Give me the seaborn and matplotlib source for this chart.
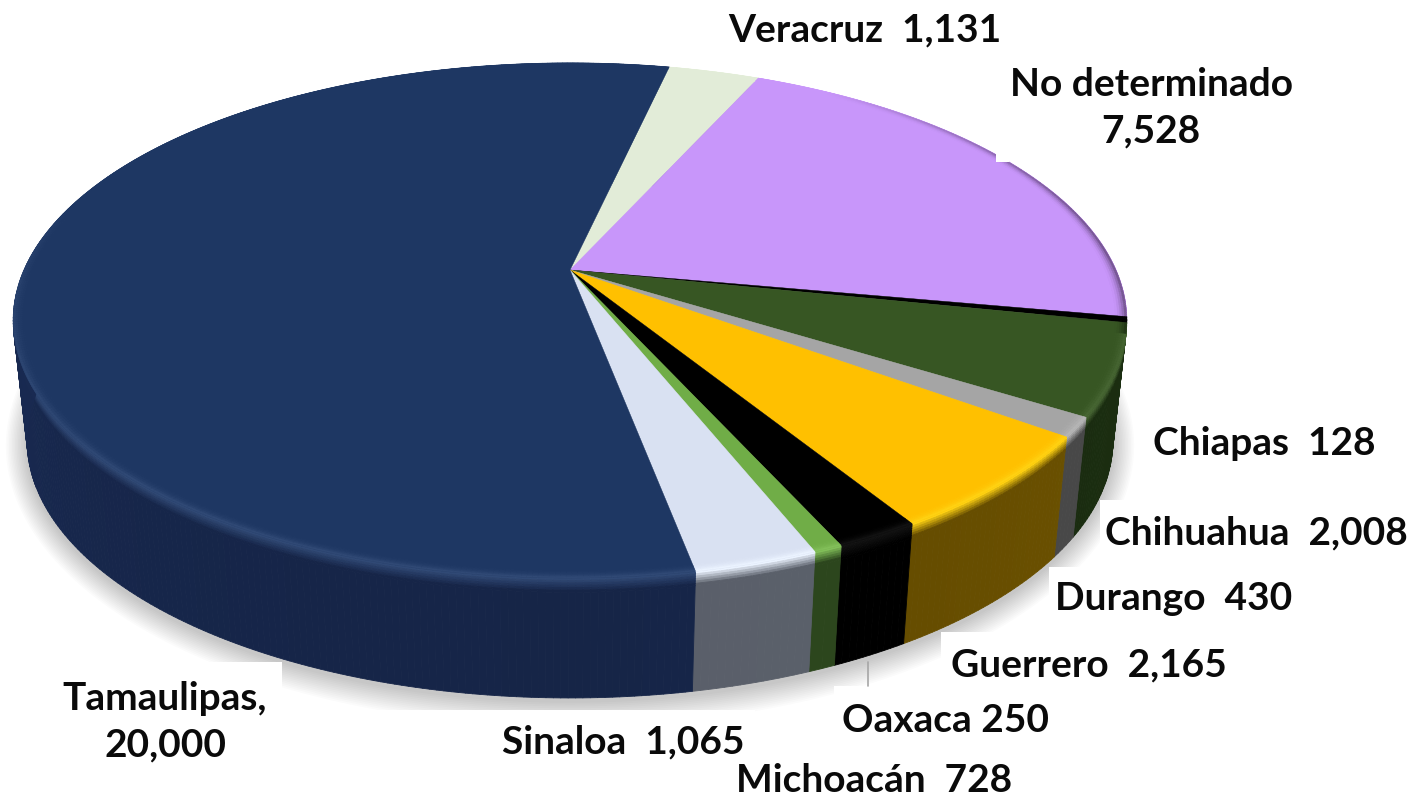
import numpy as np
import matplotlib
matplotlib.use("Agg")
import matplotlib.pyplot as plt
from matplotlib.collections import PolyCollection
from matplotlib.patches import Rectangle, Polygon
import seaborn as sns

# ---- data (clockwise from the back of the pie) ----
states = ["Veracruz", "No determinado", "Chiapas", "Chihuahua", "Durango",
          "Guerrero", "Michoacán", "Oaxaca", "Sinaloa", "Tamaulipas"]
values = [1131, 7528, 128, 2008, 430, 2165, 728, 250, 1065, 20000]
top_hex = ["#E2ECD8", "#C896FA", "#000000", "#375623", "#A5A5A5",
           "#FFC000", "#000000", "#70AD47", "#D9E1F2", "#1E3763"]
wall_hex = ["#71766C", "#64487D", "#000000", "#1A2C10", "#484848",
            "#6A5000", "#000000", "#2E4A1E", "#5F6570", "#17274C"]
label_text = ["Veracruz  1,131", "No determinado\n7,528", "Chiapas  128",
              "Chihuahua  2,008", "Durango  430", "Guerrero  2,165",
              "Michoacán  728", "Oaxaca 250", "Sinaloa  1,065", "Tamaulipas,\n20,000"]

# ---- layout ----
W, H = 1409, 797
CX, CY = 570, 270           # apex on the screen
A, B, K = 546, 247.6, 0.196 # perspective disc
DEPTH = 120
BOTTOM_SCALE = 0.975
START = 12.5                # degrees clockwise from the back
label_xy = [(865, 30), (1151, 108), (1264, 443), (1256, 533), (1174, 599),
            (1089, 665), (874, 780), (946, 720), (623, 742), (165, 722)]
white_boxes = [(0, 662, 282, 135), (0, 710, 492, 87), (492, 710, 263, 87),
               (834, 686, 575, 111), (941, 632, 468, 165), (1049, 567, 360, 230),
               (1100, 500, 309, 297)]

sns.set_theme(style="white")
plt.rcParams["font.family"] = ["Lato", "DejaVu Sans"]
tops = sns.color_palette(top_hex)
walls = sns.color_palette(wall_hex)

fig, ax = plt.subplots(figsize=(W / 100, H / 100), dpi=100)
fig.subplots_adjust(0, 0, 1, 1)
ax.set_xlim(0, W)
ax.set_ylim(H, 0)
ax.axis("off")


def project(theta, r=1.0):
    u, v = r * np.sin(theta), r * np.cos(theta)
    w = 1 + K * v
    return CX + A * u / w, CY - B * v / w


def lower(theta):
    x, y = project(theta)
    return CX + (x - CX) * BOTTOM_SCALE, y + DEPTH


def mix(a, b, t):
    return tuple((1 - t) * np.array(a) + t * np.array(b))


def lighten(c, amt):
    return tuple(np.clip(np.array(c) + amt, 0, 1))


def front(theta):
    return float(np.clip(-np.cos(theta) + 0.25, 0, 1) ** 0.5)


def dark_side(theta):
    return float(np.clip((np.sin(theta) - 0.55) * 2.2, 0, 1)) if np.cos(theta) > -0.25 else 0.0


# shadow
ring = np.linspace(0, 2 * np.pi, 361)
bx, by = lower(ring)
for i in range(14, 0, -1):
    s = 1 + i * 0.0028
    ax.add_patch(Polygon(np.c_[CX + (bx - CX) * s, by.mean() + 3 + (by - by.mean()) * (1 + i * 0.0065)],
                         closed=True, fc="#000000", ec="none", alpha=0.014, zorder=1))

# white label backgrounds covering the shadow
for (x0, y0, w0, h0) in white_boxes:
    ax.add_patch(Rectangle((x0, y0), w0, h0, fc="white", ec="none", zorder=2))
ax.plot([868, 868], [662, 686], color="#A6A6A6", lw=1.2, zorder=2.5)

fractions = np.array(values) / np.sum(values)
edges = np.radians(START + 360 * np.concatenate([[0], np.cumsum(fractions)]))

# walls
for i in range(len(values)):
    th = np.linspace(edges[i], edges[i + 1], max(3, int((edges[i + 1] - edges[i]) * 90)))
    polys, cols = [], []
    tsteps = np.r_[np.linspace(0, 0.12, 7), 1.0]
    hi = lighten(tops[i], 0.07)
    for a0, a1 in zip(th[:-1], th[1:]):
        xa, ya = project(a0); xb, yb = project(a1)
        xc, yc = lower(a1); xd, yd = lower(a0)
        shade = np.clip(1.08 + 0.14 * np.cos(0.5 * (a0 + a1)), 0.9, 1.2)
        wall = tuple(np.clip(np.array(walls[i]) * shade, 0, 1))
        for t0, t1 in zip(tsteps[:-1], tsteps[1:]):
            polys.append([(xa + (xd - xa) * t0, ya + (yd - ya) * t0),
                          (xb + (xc - xb) * t0, yb + (yc - yb) * t0),
                          (xb + (xc - xb) * t1, yb + (yc - yb) * t1),
                          (xa + (xd - xa) * t1, ya + (yd - ya) * t1)])
            cols.append(mix(hi, wall, min(1.0, t0 / 0.10)))
    ax.add_collection(PolyCollection(polys, facecolors=cols, edgecolors=cols, linewidths=0.6, zorder=3))

# top faces
for i in range(len(values)):
    th = np.linspace(edges[i], edges[i + 1], max(3, int((edges[i + 1] - edges[i]) * 120)))
    x, y = project(th)
    ax.add_patch(Polygon(np.r_[[[CX, CY]], np.c_[x, y]], closed=True, fc=tops[i], ec=tops[i],
                         lw=0.3, zorder=4))
    # bevel: light on the front of the rim, dark on the far right side
    radii = np.linspace(0.98, 1.0, 6)
    polys, cols = [], []
    for a0, a1 in zip(th[:-1], th[1:]):
        mid = 0.5 * (a0 + a1)
        edge = mix(lighten(tops[i], 0.07 * front(mid)), walls[i], 0.85 * dark_side(mid))
        for r0, r1 in zip(radii[:-1], radii[1:]):
            xa, ya = project(np.array([a0, a1]), r0)
            xb, yb = project(np.array([a1, a0]), r1)
            polys.append(np.c_[np.r_[xa, xb], np.r_[ya, yb]])
            t = ((r1 - 0.98) / 0.02) ** 2
            cols.append(mix(tops[i], edge, t))
    ax.add_collection(PolyCollection(polys, facecolors=cols, edgecolors=cols, linewidths=0.3, zorder=5))

# notch cut from the purple slice by the label's background
ax.add_patch(Rectangle((996, 140), 13, 22, fc="white", ec="none", zorder=5.5))

# labels
for txt, (lx, ly) in zip(label_text, label_xy):
    ax.text(lx, ly, txt, ha="center", va="center", fontsize=28, fontweight="bold",
            color="#0A0A0A", linespacing=1.4, zorder=6)

fig.savefig("out.png", dpi=100, facecolor="white")
